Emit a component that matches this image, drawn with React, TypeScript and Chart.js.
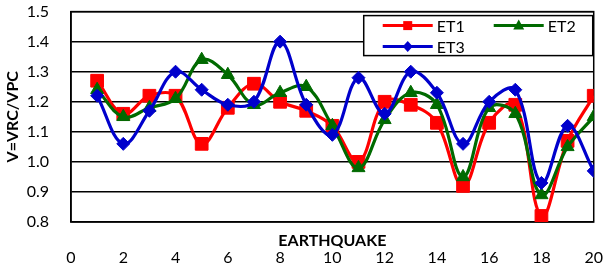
import React, { useEffect, useRef } from 'react';
import { Chart, registerables } from 'chart.js';

Chart.register(...registerables);

const earthquakes = [1, 2, 3, 4, 5, 6, 7, 8, 9, 10, 11, 12, 13, 14, 15, 16, 17, 18, 19, 20];
const et1 = [1.27, 1.16, 1.22, 1.22, 1.06, 1.18, 1.26, 1.2, 1.17, 1.12, 1.0, 1.2, 1.19, 1.13, 0.92, 1.13, 1.19, 0.82, 1.07, 1.22];
const et2 = [1.24, 1.15, 1.18, 1.21, 1.34, 1.29, 1.19, 1.23, 1.25, 1.12, 0.98, 1.14, 1.23, 1.19, 0.95, 1.18, 1.16, 0.89, 1.05, 1.15];
const et3 = [1.22, 1.06, 1.17, 1.3, 1.24, 1.19, 1.2, 1.4, 1.19, 1.09, 1.28, 1.16, 1.3, 1.23, 1.06, 1.2, 1.24, 0.93, 1.12, 0.97];
const seriesNames = ['ET1', 'ET2', 'ET3'];
const xTitle = 'EARTHQUAKE';
const yTitle = 'V=VRC/VPC';

const FONT = 'Lato, "Open Sans", sans-serif';
const RED = '#ff0000';
const GREEN = '#006a00';
const BLUE = '#0000cc';

const frameAndTitle = {
  id: 'frameAndTitle',
  beforeDatasetsDraw(chart: any) {
    const { ctx, chartArea } = chart;
    ctx.save();
    ctx.strokeStyle = '#000';
    ctx.lineWidth = 1.5;
    ctx.strokeRect(chartArea.left, chartArea.top, chartArea.right - chartArea.left, chartArea.bottom - chartArea.top);
    ctx.restore();
  },
  afterDraw(chart: any) {
    const { ctx, chartArea } = chart;
    ctx.save();
    // x-axis title (between axis and tick labels)
    ctx.font = `bold 16px ${FONT}`;
    ctx.fillStyle = '#000';
    ctx.textAlign = 'center';
    ctx.textBaseline = 'middle';
    ctx.fillText(xTitle, (chartArea.left + chartArea.right) / 2, chartArea.bottom + 19);

    // legend box
    const right = chartArea.right - 1;
    const left = right - 229;
    const top = chartArea.top + 4;
    const h = 40;
    ctx.fillStyle = '#fff';
    ctx.fillRect(left, top, right - left, h);
    ctx.strokeStyle = '#000';
    ctx.lineWidth = 1.5;
    ctx.strokeRect(left, top, right - left, h);

    const items = [
      { name: seriesNames[0], color: RED, shape: 'rect', x: left + 19, y: top + 10 },
      { name: seriesNames[1], color: GREEN, shape: 'tri', x: left + 130, y: top + 10 },
      { name: seriesNames[2], color: BLUE, shape: 'dia', x: left + 19, y: top + 31 },
    ];
    ctx.font = `16px ${FONT}`;
    ctx.textAlign = 'left';
    ctx.textBaseline = 'middle';
    for (const it of items) {
      ctx.strokeStyle = it.color;
      ctx.lineWidth = 3;
      ctx.beginPath();
      ctx.moveTo(it.x, it.y);
      ctx.lineTo(it.x + 50, it.y);
      ctx.stroke();
      const cx = it.x + 25;
      const cy = it.y;
      ctx.fillStyle = it.color;
      ctx.beginPath();
      if (it.shape === 'rect') {
        ctx.rect(cx - 4.5, cy - 4.5, 9, 9);
      } else if (it.shape === 'tri') {
        ctx.moveTo(cx, cy - 6);
        ctx.lineTo(cx + 5.5, cy + 4);
        ctx.lineTo(cx - 5.5, cy + 4);
        ctx.closePath();
      } else {
        ctx.moveTo(cx - 5, cy);
        ctx.lineTo(cx, cy - 5.5);
        ctx.lineTo(cx + 5, cy);
        ctx.lineTo(cx, cy + 5.5);
        ctx.closePath();
      }
      ctx.fill();
      ctx.fillStyle = '#000';
      ctx.fillText(it.name, it.x + 54, it.y + 1);
    }
    ctx.restore();
  },
};

export default function App() {
  const ref = useRef<HTMLCanvasElement | null>(null);

  useEffect(() => {
    if (!ref.current) return;
    const mk = (vals: number[]) => earthquakes.map((x, i) => ({ x, y: vals[i] }));
    const common = { borderWidth: 3.2, pointBorderWidth: 1, tension: 0.38 };
    const chart = new Chart(ref.current, {
      type: 'line',
      data: {
        datasets: [
          {
            ...common,
            label: seriesNames[0],
            data: mk(et1),
            borderColor: RED,
            backgroundColor: RED,
            pointStyle: 'rect',
            pointRadius: 9,
            order: 3,
          },
          {
            ...common,
            label: seriesNames[1],
            data: mk(et2),
            borderColor: GREEN,
            backgroundColor: GREEN,
            pointStyle: 'triangle',
            pointRadius: 7.5,
            order: 2,
          },
          {
            ...common,
            label: seriesNames[2],
            data: mk(et3),
            borderColor: BLUE,
            backgroundColor: BLUE,
            pointStyle: 'rectRot',
            pointRadius: 6.5,
            order: 1,
          },
        ],
      },
      options: {
        responsive: false,
        animation: false,
        events: [],
        layout: { padding: { top: 2, right: 2, bottom: 0, left: 0 } },
        plugins: {
          legend: { display: false },
          tooltip: { enabled: false },
        },
        scales: {
          x: {
            type: 'linear',
            min: 0,
            max: 20,
            ticks: {
              stepSize: 2,
              color: '#000',
              font: { family: FONT, size: 16 },
              padding: 2,
              maxRotation: 0,
            },
            grid: { display: true, color: 'rgba(0,0,0,0)', tickColor: 'rgba(0,0,0,0)', drawTicks: true, tickLength: 24 },
            border: { display: false },
            afterFit: (scale: any) => {
              scale.height = 47;
            },
          },
          y: {
            min: 0.8,
            max: 1.5,
            ticks: {
              stepSize: 0.1,
              color: '#000',
              font: { family: FONT, size: 16 },
              padding: 2,
              callback: (v: any) => Number(v).toFixed(1),
            },
            grid: { color: '#000', lineWidth: 1.5, drawTicks: true, tickLength: 20, tickColor: 'rgba(0,0,0,0)' },
            border: { display: true, color: '#000', width: 1.5 },
            title: {
              display: true,
              text: yTitle,
              color: '#000',
              font: { family: FONT, size: 16, weight: 'bold' },
              padding: { top: 3, bottom: 3 },
            },
            afterFit: (scale: any) => {
              scale.width = 71;
            },
          },
        },
      },
      plugins: [frameAndTitle],
    });
    return () => chart.destroy();
  }, []);

  return (
    <div style={{ position: 'fixed', left: 0, top: 0, width: 605, height: 269, background: '#fff' }}>
      <canvas ref={ref} width={605} height={269} />
    </div>
  );
}
